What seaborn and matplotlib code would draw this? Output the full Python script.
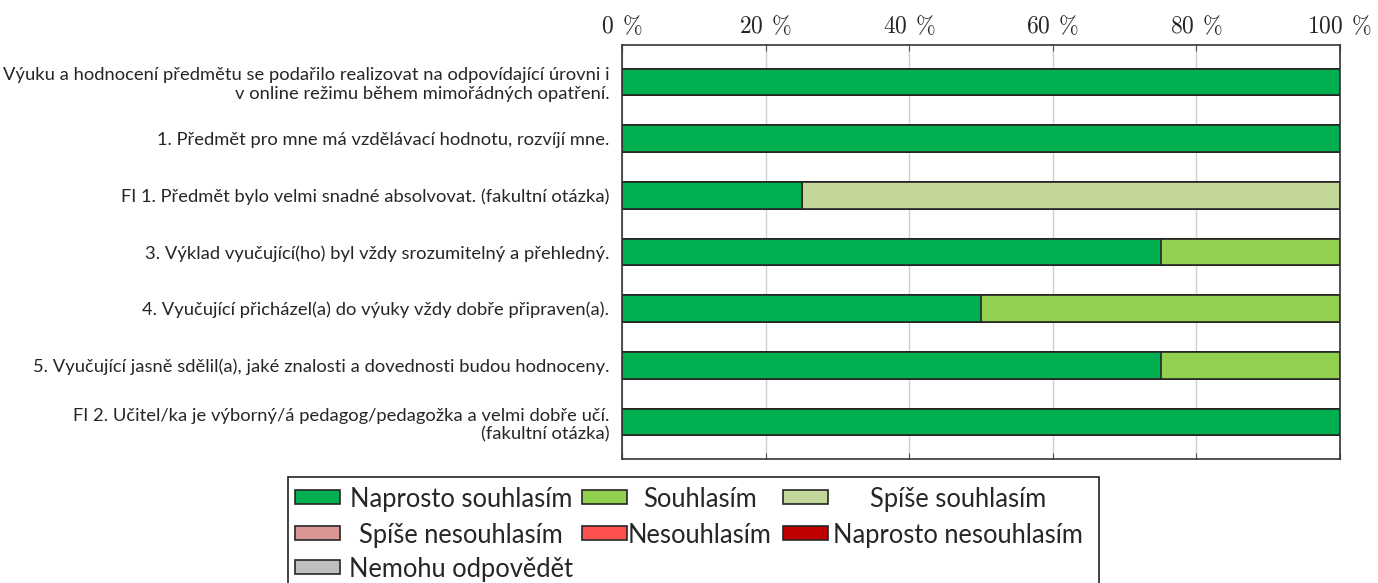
import pandas as pd
import matplotlib.pyplot as plt
import seaborn as sns
from matplotlib.patches import Rectangle

questions = [
    "Výuku a hodnocení předmětu se podařilo realizovat na odpovídající úrovni i\nv online režimu během mimořádných opatření.",
    "1. Předmět pro mne má vzdělávací hodnotu, rozvíjí mne.",
    "FI 1. Předmět bylo velmi snadné absolvovat. (fakultní otázka)",
    "3. Výklad vyučující(ho) byl vždy srozumitelný a přehledný.",
    "4. Vyučující přicházel(a) do výuky vždy dobře připraven(a).",
    "5. Vyučující jasně sdělil(a), jaké znalosti a dovednosti budou hodnoceny.",
    "FI 2. Učitel/ka je výborný/á pedagog/pedagožka a velmi dobře učí.\n(fakultní otázka)",
]

categories = ["Naprosto souhlasím", "Souhlasím", "Spíše souhlasím",
              "Spíše nesouhlasím", "Nesouhlasím", "Naprosto nesouhlasím",
              "Nemohu odpovědět"]
colors = ["#00B050", "#92D050", "#C4D79B", "#DA9694", "#FF5050", "#C00000", "#BFBFBF"]

naprosto_souhlasim = [100, 100, 25, 75, 50, 75, 100]
souhlasim = [0, 0, 0, 25, 50, 25, 0]
spise_souhlasim = [0, 0, 75, 0, 0, 0, 0]
spise_nesouhlasim = [0, 0, 0, 0, 0, 0, 0]
nesouhlasim = [0, 0, 0, 0, 0, 0, 0]
naprosto_nesouhlasim = [0, 0, 0, 0, 0, 0, 0]
nemohu = [0, 0, 0, 0, 0, 0, 0]

df = pd.DataFrame({
    "otazka": questions,
    categories[0]: naprosto_souhlasim,
    categories[1]: souhlasim,
    categories[2]: spise_souhlasim,
    categories[3]: spise_nesouhlasim,
    categories[4]: nesouhlasim,
    categories[5]: naprosto_nesouhlasim,
    categories[6]: nemohu,
})

# cumulative sums, drawn from the widest layer down so they stack
cum = df[categories].cumsum(axis=1)

sns.set_style("white")
plt.rcParams["font.family"] = ["Lato", "DejaVu Sans"]
plt.rcParams["mathtext.fontset"] = "cm"

W, H = 1378, 583
fig = plt.figure(figsize=(W / 100, H / 100), dpi=100)
ax = fig.add_axes([622 / W, 1 - 459 / H, 718 / W, 414 / H])

for cat, col in reversed(list(zip(categories, colors))):
    sns.barplot(x=cum[cat], y=df["otazka"], color=col, orient="h",
                width=0.47, edgecolor="#262626", linewidth=1.2, ax=ax,
                saturation=1)

ax.set_xlim(0, 100)
ax.set_ylim(6.65, -0.65)
ax.set_xlabel("")
ax.set_ylabel("")
ax.set_xticks([0, 20, 40, 60, 80, 100])
ax.set_xticklabels([r"$%d\;\,\%%$" % v for v in [0, 20, 40, 60, 80, 100]], fontsize=17)
ax.xaxis.tick_top()
ax.tick_params(axis="x", which="both", direction="in", length=4, color="#555555",
               top=True, bottom=True, labeltop=True, labelbottom=False, pad=6)
ax.tick_params(axis="y", length=0, labelsize=13.2, pad=9)
ax.grid(axis="x", color="#d0d0d0", linewidth=1)
ax.set_axisbelow(True)
for s in ax.spines.values():
    s.set_color("#333333")
    s.set_linewidth(1.2)
    s.set_visible(True)


# legend drawn as a pgfplots-like matrix: patch + centred text per cell
def px(x, y):
    return x / W, 1 - y / H


x0, y0 = px(288, 477)
x1, y1 = px(1099, 600)
fig.add_artist(Rectangle((x0, y1), x1 - x0, y0 - y1, transform=fig.transFigure,
                         facecolor="white", edgecolor="#222222", linewidth=1.2))

patch_x = [295, 582, 783]
text_cx = [461, 700, 958]
row_y = [497, 533, 567]
for i, (cat, col) in enumerate(zip(categories, colors)):
    r, c = divmod(i, 3)
    bx, by = px(patch_x[c], row_y[r] + 7)
    fig.add_artist(Rectangle((bx, by), 45 / W, 14 / H, transform=fig.transFigure,
                             facecolor=col, edgecolor="#262626", linewidth=1.2))
    tx, ty = px(text_cx[c], row_y[r])
    fig.text(tx, ty, cat, ha="center", va="center_baseline", fontsize=18.4)

fig.savefig("out.png", dpi=100)
